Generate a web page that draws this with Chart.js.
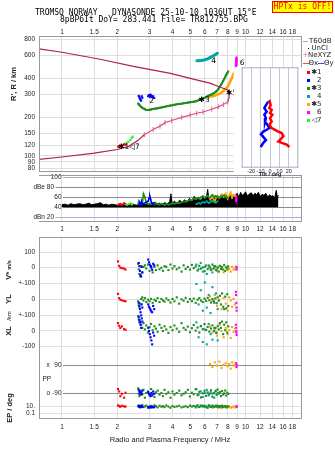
<!DOCTYPE html>
<html>
<head>
<meta charset="utf-8">
<title>Dynasonde ionogram</title>
<script src="https://cdn.jsdelivr.net/npm/chart.js@4.4.1/dist/chart.umd.min.js"></script>
<style>
  body { margin: 0; background: #fff; }
  #page { position: relative; width: 335px; height: 451px; overflow: hidden; background: #fff;
          font-family: "Liberation Sans", Arial, sans-serif; color: #222; }
  canvas { position: absolute; }
  .txt { position: absolute; white-space: pre; line-height: 1; }
  .mono { font-family: "DejaVu Sans Mono", monospace; font-size: 8px; color: #000; }
  .rot { transform: translate(-50%, -50%) rotate(-90deg); font-weight: bold; font-size: 7.5px; }
  .leg { font-family: "DejaVu Sans", "Liberation Sans", sans-serif; font-size: 7px; }
  .sw { position: absolute; }
</style>
</head>
<body>
<div id="page">
  <canvas id="cRange" width="335" height="172" style="left:0;top:0;width:335px;height:172px"></canvas>
  <canvas id="cAmp" width="335" height="62" style="left:0;top:173px;width:335px;height:62px"></canvas>
  <canvas id="cLow" width="335" height="201" style="left:0;top:231px;width:335px;height:201px"></canvas>
  <canvas id="cTilt" width="70" height="109" style="left:232px;top:64px;width:70px;height:109px"></canvas>

  <div class="txt mono" style="left:35px;top:8.6px">TROMSO NORWAY   DYNASONDE 25-10-10 1036UT 15°E</div>
  <div class="txt mono" style="left:60px;top:15.8px">8pBP6It DoY= 283.441 File= TR812755.BPG</div>
  <div class="txt mono" style="left:272px;top:1px;width:59px;height:10px;line-height:10px;text-align:center;color:#f00;background:#ff0;border:1px solid #f00">HPTx is OFF!</div>

  <!-- legend -->
  <div class="sw" style="left:303px;top:41px;width:5px;height:1px;background:#aaa"></div>
  <div class="txt leg" style="left:309px;top:38.2px">T60dB</div>
  <div class="sw" style="left:307.5px;top:47.5px;width:1.5px;height:1.5px;background:#000"></div>
  <div class="txt leg" style="left:311.5px;top:44.8px">UnCl</div>
  <div class="txt leg" style="left:302.5px;top:51.5px;color:#e0609a">+</div>
  <div class="txt leg" style="left:308px;top:51.5px">NeXYZ</div>
  <div class="sw" style="left:303px;top:63px;width:5.5px;height:1px;background:#f44"></div>
  <div class="txt leg" style="left:308.5px;top:59.8px">Θx</div>
  <div class="sw" style="left:317.5px;top:63px;width:6px;height:1px;background:#44f"></div>
  <div class="txt leg" style="left:324px;top:59.8px">Θy</div>
  <div id="legRows"></div>

  <div class="txt rot" style="left:14px;top:84px">R', R / km</div>
  <div class="txt rot" style="left:9px;top:270px">V* <span style="font-size:5.5px">m/s</span></div>
  <div class="txt rot" style="left:9px;top:299px">YL</div>
  <div class="txt rot" style="left:9px;top:316px;font-size:6px;font-weight:normal">/km</div>
  <div class="txt rot" style="left:9px;top:331px">XL</div>
  <div class="txt rot" style="left:9.5px;top:408px">EP / deg</div>
  <div class="txt" style="left:170px;top:435.8px;font-size:7.5px;transform:translateX(-50%)">Radio and Plasma Frequency / MHz</div>
  <div class="txt" style="left:270px;top:172.4px;font-size:5.5px;font-weight:bold;transform:translateX(-50%)">Tilt / deg</div>
</div>

<script>
// sounding frequency axis and tick values
const freqTicks = [1, 1.5, 2, 3, 4, 5, 6, 7, 8, 9, 10, 12, 14, 16, 18];
const rangeTicks = [80, 90, 100, 120, 150, 200, 300, 400, 600, 800];
const ampTicks = [100, 80, 60, 40, 20];
const tiltTicks = [-20, -10, 0, 10, 20];

// true height profile (MHz, km)
const profLowF = [0.75, 1.0, 1.5, 2.0, 2.3, 2.6, 2.81];
const profLowR = [94, 98, 105, 112, 118, 132, 146];
const neF = [2.81, 3.14, 3.42, 3.64, 3.96, 4.49, 4.99, 5.42, 5.87, 6.54, 7.11, 7.57, 8.0];
const neR = [146, 160, 170, 181, 188, 199, 207, 214, 219, 230, 240, 250, 262];
const profTopF = [8.0, 8.12, 8.15, 8.1, 8.0, 7.0, 6.46, 5.0, 3.9, 2.45, 1.615, 1.0, 0.75];
const profTopR = [262, 280, 300, 318, 324, 348, 365, 399, 436, 494, 561, 636, 675];

// echo groups: f = MHz, r = R' km, a = dB, v = V* m/s, yl/xl = m, pp/ep = deg
const f1 = [2.02, 2.05, 2.08, 2.12, 2.18, 2.22];
const r1 = [118, 119, 120, 121, 123, 122];
const a1 = [44, 46, 47, 45, 48, 47];
const v1 = [40, 12, 0, -3, -5, -12];
const yl1 = [37, 10, 0, -4, -8, -10];
const xl1 = [50, 33, 19, 29, 12, 8];
const pp1 = [-65, -80, -110, -95, -120, -88];
const ep1 = [20, 12, 8, 15, 10, 9];

const f2 = [2.62, 2.64, 2.66, 2.68, 2.70, 2.72, 2.74, 2.95, 2.98, 3.01, 3.04, 3.07, 3.10, 3.14, 3.18];
const r2 = [292, 285, 278, 272, 268, 290, 282, 290, 296, 288, 298, 292, 286, 290, 281];
const a2 = [44, 46, 48, 45, 47, 50, 46, 52, 58, 62, 56, 50, 48, 47, 45];
const v2 = [30, 10, -20, -45, -56, 5, -30, 52, 35, 20, 10, 0, -13, 25, 15];
const yl2 = [-20, -40, -60, -80, -100, -30, -50, -30, -45, -55, -65, -75, -80, -40, -60];
const xl2 = [90, 70, 55, 40, 20, 80, 60, 20, 0, -20, -40, -60, -85, -10, -30];
const pp2 = [-70, -80, -90, -100, -85, -95, -75, -85, -95, -100, -110, -90, -105, -80, -95];
const ep2 = [12, 8, 10, 6, 9, 14, 7, 6, 5, 8, 4, 7, 9, 5, 6];

const f3 = [2.60, 2.62, 2.64, 2.67, 2.70, 2.74, 2.78, 2.83, 2.88, 2.94,
            3.00, 3.06, 3.12, 3.19, 3.25, 3.32, 3.40, 3.48, 3.55, 3.62,
            3.70, 3.80, 3.90, 4.00, 4.10, 4.22, 4.35, 4.48, 4.60, 4.72,
            4.85, 4.98, 5.10, 5.22, 5.35, 5.48, 5.60, 5.72, 5.85, 5.98,
            6.10, 6.22, 6.35, 6.48, 6.60, 6.72, 6.85, 6.95, 7.05, 7.15,
            7.25, 7.35, 7.45, 7.55, 7.65, 7.75, 7.85, 7.95, 8.05];
const r3 = [255, 252, 248, 244, 240, 236, 233, 230, 227, 227,
            228, 229, 231, 232, 233, 234, 236, 237, 239, 240,
            242, 244, 246, 247, 249, 251, 253, 254, 256, 257,
            259, 260, 262, 263, 265, 268, 272, 275, 278, 282,
            286, 290, 295, 298, 302, 307, 312, 318, 325, 334,
            345, 356, 368, 381, 395, 410, 425, 438, 452];
const a3 = [48, 50, 47, 49, 50, 47, 67, 60, 49, 46,
            47, 46, 48, 45, 48, 46, 45, 47, 46, 44,
            47, 45, 46, 48, 47, 49, 48, 50, 52, 51,
            53, 55, 54, 58, 56, 59, 57, 60, 62, 59,
            61, 63, 59, 62, 65, 60, 63, 61, 62, 58,
            60, 62, 61, 63, 64, 60, 62, 59, 58];
const v3 = [25, -10, -40, -55, 10, -30, 5, 15, -5, 20,
            -20, 10, -30, 5, -15, 15, -10, 0, -20, 10,
            5, -15, 20, -5, 10, -10, 0, -25, 15, -8,
            5, -12, 18, -3, 8, -18, 12, -6, 2, -22,
            14, -9, 6, -14, 20, -4, 10, -16, 0, -25,
            12, -8, 5, -12, 18, -20, 3, -6, 9];
const yl3 = [-10, -35, -50, -25, 5, 15, -5, 10, -15, 0,
             -10, 5, -20, 0, -8, 10, -15, 5, -5, -12,
             8, -3, -18, 5, -10, 15, -25, 2, -6, 12,
             -14, 4, -9, 7, -20, 0, 10, -5, -15, 6,
             -8, 12, -3, -18, 4, -10, 8, -22, 15, -6,
             25, -30, 40, -45, -60, 20, -55, 35, -40];
const xl3 = [95, 75, 55, 60, 40, 20, 50, 10, 35, -10,
             25, 45, 5, 30, 15, -5, 40, 20, 0, 30,
             10, -12, 25, 5, 35, 15, -5, 50, 20, 8,
             28, -8, 18, 38, 2, 22, -10, 32, 12, 44,
             6, 26, -4, 16, 36, 0, 20, -12, 30, 10,
             50, 20, 60, -20, 40, 5, 55, -10, 30];
const pp3 = [-60, -95, -110, -75, -85, -100, -70, -120, -90, -80,
             -105, -65, -95, -115, -85, -75, -100, -90, -110, -70,
             -95, -85, -120, -80, -100, -90, -75, -105, -95, -85,
             -70, -112, -88, -98, -66, -104, -82, -118, -92, -76,
             -108, -86, -96, -72, -114, -90, -80, -102, -68, -94,
             -84, -110, -78, -100, -92, -74, -106, -88, -96];
const ep3 = [15, 8, 20, 5, 12, 25, 6, 10, 18, 4,
             9, 14, 7, 22, 11, 5, 16, 8, 12, 6,
             20, 9, 4, 13, 7, 10, 15, 5, 8, 11,
             6, 18, 9, 13, 5, 22, 7, 12, 16, 8,
             10, 4, 14, 7, 19, 6, 11, 9, 15, 5,
             12, 8, 17, 6, 10, 13, 5, 9, 11];

const f4 = [5.40, 5.55, 5.70, 5.85, 6.00, 6.15, 6.30, 6.45, 6.60, 6.75, 6.90, 7.05];
const r4 = [546, 547, 549, 551, 556, 562, 570, 582, 592, 603, 614, 628];
const a4 = [46, 48, 47, 50, 49, 52, 48, 51, 53, 50, 49, 52];
const v4 = [20, -10, 30, -25, 5, -40, 15, -5, -30, 10, -15, 0];
const yl4 = [100, -30, 60, -70, 110, -50, 30, -85, 80, -20, 40, -60];
const xl4 = [55, -40, 30, -70, 10, -85, 45, -20, -55, 20, -10, -60];
const pp4 = [-65, -100, -80, -115, -90, -70, -105, -85, -95, -120, -75, -90];
const ep4 = [12, 6, 20, 9, 15, 5, 25, 8, 11, 7, 18, 10];

const f5 = [6.40, 6.60, 6.80, 7.00, 7.20, 7.40, 7.60, 7.80, 8.00, 8.15, 8.30, 8.45, 8.60, 8.75];
const r5 = [288, 290, 293, 298, 303, 310, 320, 332, 345, 362, 385, 405, 430, 445];
const a5 = [55, 60, 52, 63, 58, 66, 61, 68, 57, 64, 70, 59, 65, 62];
const v5 = [5, -10, 0, -20, 8, -5, -30, 2, -15, -8, -25, 5, -12, -3];
const yl5 = [20, -10, 30, -40, 0, -60, 10, -25, -70, 15, -5, -45, 5, -30];
const xl5 = [30, -10, 10, -30, 40, 0, -40, 20, -20, 5, -45, 25, -5, 15];
const pp5 = [95, 75, 105, 85, 110, 70, 90, 100, 80, 95, 65, 105, 85, 90];
const ep5 = [8, 4, 12, 6, 9, 3, 7, 10, 5, 8, 4, 6, 9, 5];

const f6 = [8.86, 8.88, 8.90, 8.92, 8.94];
const r6 = [495, 515, 535, 555, 580];
const a6 = [52, 58, 63, 55, 60];
const v6 = [0, -8, 5, -12, 3];
const yl6 = [50, 30, -20, -50, -70];
const xl6 = [40, 20, 0, -10, -25];
const pp6 = [100, 95, 85, 75, 90];
const ep6 = [9, 6, 10, 7, 8];

const f7 = [2.25, 2.30, 2.36, 2.40, 2.43];
const r7 = [126, 129, 133, 138, 141];
const a7 = [44, 46, 48, 45, 47];

// group tags written next to the traces
const tagF = [2.32, 3.08, 5.95, 6.7, 8.38, 9.57];
const tagR = [117, 267, 270, 546, 305, 520];
const tagText = ['✱1◁7', '2', '✱3', '4', '✱5', '6'];

// receiver noise (dB) across the sweep
const noiseF = [1.00, 1.04, 1.08, 1.12, 1.16, 1.20, 1.25, 1.30, 1.35, 1.40, 1.45, 1.50, 1.56, 1.62, 1.68, 1.74, 1.80, 1.87, 1.94, 2.00,
                2.08, 2.16, 2.24, 2.32, 2.40, 2.48, 2.56, 2.65, 2.74, 2.83, 2.92, 3.01,
                3.10, 3.20, 3.30, 3.40, 3.50, 3.62, 3.74, 3.86, 3.92, 3.98,
                4.10, 4.24, 4.38, 4.52, 4.66, 4.80, 4.95, 5.10, 5.25, 5.40, 5.56, 5.72, 5.88,
                6.05, 6.15, 6.22, 6.30,
                6.48, 6.66, 6.84, 7.02, 7.20, 7.40, 7.60, 7.80, 8.00, 8.20, 8.40, 8.60,
                8.80, 9.00, 9.20, 9.40, 9.60, 9.80, 10.0, 10.25, 10.5, 10.75, 11.0, 11.25, 11.5, 11.75, 12.0, 12.3,
                12.6, 12.9, 13.2, 13.5, 13.8, 14.1, 14.4, 14.7, 14.9, 15.1];
const noiseTop = [45, 46, 44, 47, 45, 46, 47, 45, 46, 48, 45, 46, 47, 49, 45, 46, 44, 46, 45, 44,
                  44, 45, 43, 44, 46, 45, 44, 46, 47, 45, 48, 46,
                  47, 50, 46, 48, 45, 49, 47, 50, 67, 48,
                  52, 47, 54, 49, 55, 50, 58, 51, 62, 54, 60, 52, 63,
                  56, 64, 76, 58,
                  55, 60, 57, 62, 58, 61, 59, 63, 60, 64, 61, 66,
                  62, 68, 60, 70, 64, 66, 71, 62, 67, 69, 63, 68, 65, 70, 61, 66,
                  64, 68, 60, 65, 62, 63, 58, 74, 60, 64];

// antenna tilt against height (deg, km)
const tiltXR = [270, 246, 233, 226, 213, 207, 195, 183, 173, 163, 158, 153, 149, 141, 132, 128, 125, 121, 116];
const tiltX = [-0.7, 0.7, -0.7, 1.8, 0, 2.5, 0, 1.8, -0.7, 1.8, 5.3, 8.9, 12.4, 14.2, 10.6, 8.9, 12.4, 17.7, 20.6];
const tiltYR = [262, 246, 233, 219, 207, 195, 183, 173, 163, 158, 153, 146, 139, 131, 125, 116];
const tiltY = [-1.8, -4.3, -6, -3.5, -6, -4.3, -5.3, -2.8, -0.7, -3.5, -7.1, -9.6, -7.1, -4.3, -7.1, -9.9];

const groups = [
  { name: '✱1', color: '#ff0000', f: f1, r: r1, a: a1, v: v1, yl: yl1, xl: xl1, pp: pp1, ep: ep1 },
  { name: '2', color: '#0000ff', f: f2, r: r2, a: a2, v: v2, yl: yl2, xl: xl2, pp: pp2, ep: ep2 },
  { name: '✱3', color: '#228b22', f: f3, r: r3, a: a3, v: v3, yl: yl3, xl: xl3, pp: pp3, ep: ep3, line: 2 },
  { name: '4', color: '#00a5a5', f: f4, r: r4, a: a4, v: v4, yl: yl4, xl: xl4, pp: pp4, ep: ep4, line: 3 },
  { name: '✱5', color: '#ffa500', f: f5, r: r5, a: a5, v: v5, yl: yl5, xl: xl5, pp: pp5, ep: ep5, line: 2.5 },
  { name: '6', color: '#ff00ff', f: f6, r: r6, a: a6, v: v6, yl: yl6, xl: xl6, pp: pp6, ep: ep6, line: 2.5 },
  { name: '◁7', color: '#2bef2b', f: f7, r: r7, a: a7 }
];

// legend rows on the right
const legRows = document.getElementById('legRows');
groups.forEach((g, i) => {
  const cy = 72.5 + i * 8;
  legRows.insertAdjacentHTML('beforeend',
    '<div class="sw" style="left:307px;top:' + (cy - 1.5) + 'px;width:3px;height:3px;background:' + g.color + '"></div>' +
    '<div class="txt leg" style="right:13.5px;top:' + (cy - 3.5) + 'px">' + g.name + '</div>');
});

Chart.defaults.font.family = "'Liberation Sans', Arial, sans-serif";
Chart.defaults.font.size = 6.5;
Chart.defaults.color = '#222';
Chart.defaults.animation = false;
Chart.defaults.layout.autoPadding = false;   // plot boxes are placed by hand
Chart.defaults.plugins.legend.display = false;
Chart.defaults.plugins.tooltip.enabled = false;

const F_MIN = 0.75, F_MAX = 20.3;
const LABEL_FONT = "6.5px 'Liberation Sans', Arial, sans-serif";

function freqAxis(position, height, pad) {
  return {
    type: 'logarithmic', position: position, min: F_MIN, max: F_MAX,
    afterBuildTicks: s => { s.ticks = freqTicks.map(v => ({ value: v })); },
    afterFit: s => { s.height = height; },
    ticks: { autoSkip: false, maxRotation: 0, minRotation: 0, padding: pad, callback: v => String(v) },
    grid: { color: '#dedede', drawTicks: false },
    border: { display: false }
  };
}

// y axis that only draws grid lines; its labels come from yLabels()
function gridAxis(type, min, max, values, color) {
  return {
    type: type, min: min, max: max,
    afterBuildTicks: s => { s.ticks = values.map(v => ({ value: v })); },
    afterFit: s => { s.width = 39; },
    ticks: { display: false },
    grid: { color: color, drawTicks: false },
    border: { display: false }
  };
}

function yLabels(values, texts) {
  return {
    id: 'yLabels',
    afterDraw(chart) {
      const ctx = chart.ctx, ys = chart.scales.y;
      ctx.save();
      ctx.font = LABEL_FONT;
      ctx.fillStyle = '#222';
      ctx.textAlign = 'right';
      ctx.textBaseline = 'middle';
      values.forEach((v, i) => ctx.fillText(texts[i], 35, ys.getPixelForValue(v)));
      ctx.restore();
    }
  };
}

function pts(xs, ys, map) {
  return xs.map((x, i) => ({ x: x, y: map ? map(ys[i]) : ys[i] }));
}

function dots(data, color, r) {
  return { data: data, showLine: false, pointStyle: 'rect', pointRadius: r || 1.3,
           pointBorderWidth: 0, pointBackgroundColor: color, borderColor: color };
}

// panel outline
function frame(sides, color) {
  return {
    id: 'frame',
    afterDraw(chart) {
      const a = chart.chartArea, ctx = chart.ctx;
      ctx.save();
      ctx.strokeStyle = color;
      ctx.lineWidth = 1;
      ctx.beginPath();
      if (sides.includes('t')) { ctx.moveTo(a.left, a.top + 0.5); ctx.lineTo(a.right, a.top + 0.5); }
      if (sides.includes('b')) { ctx.moveTo(a.left, a.bottom - 0.5); ctx.lineTo(a.right, a.bottom - 0.5); }
      if (sides.includes('l')) { ctx.moveTo(a.left + 0.5, a.top); ctx.lineTo(a.left + 0.5, a.bottom); }
      if (sides.includes('r')) { ctx.moveTo(a.right - 0.5, a.top); ctx.lineTo(a.right - 0.5, a.bottom); }
      ctx.stroke();
      ctx.restore();
    }
  };
}

// ---- virtual range panel ----
const tagPlugin = {
  id: 'tags',
  afterDatasetsDraw(chart) {
    const ctx = chart.ctx, xs = chart.scales.x, ys = chart.scales.y;
    ctx.save();
    ctx.font = "7.5px 'DejaVu Sans', sans-serif";
    ctx.fillStyle = '#000';
    ctx.textAlign = 'center';
    ctx.textBaseline = 'middle';
    tagText.forEach((t, i) => ctx.fillText(t, xs.getPixelForValue(tagF[i]), ys.getPixelForValue(tagR[i])));
    ctx.restore();
  }
};

const rangeSets = [
  { data: pts(profLowF, profLowR), showLine: true, borderColor: '#b0204c', borderWidth: 1.2, pointRadius: 0 },
  { data: pts(neF, neR), showLine: true, borderColor: '#d8508a', borderWidth: 1.2,
    pointStyle: 'line', rotation: 90, pointRadius: 2.5, pointBorderColor: '#e0609a', pointBorderWidth: 1 },
  { data: pts(profTopF, profTopR), showLine: true, borderColor: '#b0204c', borderWidth: 1.2, pointRadius: 0 }
];
groups.forEach(g => {
  const d = dots(pts(g.f, g.r), g.color, g.line ? 1.4 : 1.5);
  if (g.line) { d.showLine = true; d.borderWidth = g.line; }
  rangeSets.push(d);
});

new Chart(document.getElementById('cRange'), {
  type: 'scatter',
  data: { datasets: rangeSets },
  options: {
    responsive: false,
    layout: { padding: { left: 0, right: 33, top: 0, bottom: 0 } },
    scales: {
      x: freqAxis('top', 36, -0.5),
      y: gridAxis('logarithmic', 75, 850, rangeTicks, '#dedede')
    }
  },
  plugins: [frame('tlrb', '#999'), tagPlugin, yLabels(rangeTicks, rangeTicks.map(String))]
});

// ---- echo amplitude panel ----
const ampLines = {
  id: 'ampLines',
  beforeDatasetsDraw(chart) {
    const ctx = chart.ctx, ys = chart.scales.y, a = chart.chartArea;
    ctx.save();
    ctx.font = LABEL_FONT;
    ctx.fillStyle = '#222';
    ctx.textBaseline = 'middle';
    ampTicks.forEach(v => {
      const y = Math.round(ys.getPixelForValue(v)) + 0.5;
      const pre = v === 80 ? 'dBe ' : v === 20 ? 'dBn ' : '';
      const end = pre ? 54 : 61.5;
      ctx.textAlign = 'right';
      ctx.fillText(pre + v, end, y);
      ctx.strokeStyle = v === 20 ? '#aab0dd' : v === 100 ? '#aaa' : '#8c8c8c';
      ctx.lineWidth = 1;
      ctx.beginPath();
      ctx.moveTo(end + 1.5, y);
      ctx.lineTo(a.right, y);
      ctx.stroke();
    });
    ctx.restore();
  }
};

const ampSets = [];
groups.forEach(g => {
  ampSets.push({ data: pts(g.f, g.a), showLine: true, borderColor: g.color, borderWidth: 1.6,
                 pointStyle: 'rect', pointRadius: 1.1, pointBorderWidth: 0, pointBackgroundColor: g.color, order: 1 });
});
ampSets.push({ data: pts(noiseF, noiseTop), showLine: true, borderColor: '#000', borderWidth: 1,
               backgroundColor: '#000', fill: { value: 40 }, pointRadius: 0, order: 5 });

new Chart(document.getElementById('cAmp'), {
  type: 'scatter',
  data: { datasets: ampSets },
  options: {
    responsive: false,
    layout: { padding: { left: 39, right: 33, top: 2, bottom: 0 } },
    scales: {
      x: freqAxis('bottom', 13, 3),
      y: { type: 'linear', min: 10, max: 105, display: false }
    }
  },
  plugins: [ampLines, frame('trb', '#999')]
});

// ---- drift velocity, location, polarization panel ----
const K = 0.157;                         // panel pixels per m/s, m or deg
const ROW_V = 151.3, ROW_YL = 119.3, ROW_XL = 88, ROW_PP = 26, ROW_EP = 12.6, EP_DEC = 3.3;
const toV = v => ROW_V + v * K;
const toYL = v => ROW_YL + v * K;
const toXL = v => ROW_XL + v * K;
const toPP = v => ROW_PP + (v + 90) * K;
const toEP = v => ROW_EP + Math.log10(v / 10) * EP_DEC;

const lowTickU = [toEP(0.1), toEP(10), toXL(-100), toXL(0), toXL(100), toYL(0), toV(-100), toV(0), toV(100)];
const lowTickText = ['0.1', '10.', '-100', '0', '+-100', '0', '+-100', '0', '100'];

const ppPlugin = {
  id: 'pp',
  beforeDatasetsDraw(chart) {
    const ctx = chart.ctx, ys = chart.scales.y, a = chart.chartArea;
    ctx.save();
    ctx.font = LABEL_FONT;
    ctx.fillStyle = '#222';
    ctx.textBaseline = 'middle';
    [[90, 'x', '90'], [-90, 'o', '-90']].forEach(([v, m, t]) => {
      const y = Math.round(ys.getPixelForValue(toPP(v))) + 0.5;
      ctx.textAlign = 'left';
      ctx.fillText(m, 46.5, y);
      ctx.textAlign = 'right';
      ctx.fillText(t, 61.5, y);
      ctx.strokeStyle = '#8a8a8a';
      ctx.lineWidth = 1;
      ctx.beginPath();
      ctx.moveTo(63, y);
      ctx.lineTo(a.right, y);
      ctx.stroke();
    });
    ctx.textAlign = 'left';
    ctx.fillText('PP', 42.5, ys.getPixelForValue(toPP(0)));
    ctx.restore();
  }
};

const lowSets = [];
groups.filter(g => g.v).forEach(g => {
  [[g.v, toV], [g.yl, toYL], [g.xl, toXL], [g.pp, toPP], [g.ep, toEP]].forEach(([vals, fn]) => {
    lowSets.push(dots(pts(g.f, vals, fn), g.color, 1.5));
  });
});

new Chart(document.getElementById('cLow'), {
  type: 'scatter',
  data: { datasets: lowSets },
  options: {
    responsive: false,
    layout: { padding: { left: 0, right: 33, top: 6, bottom: 0 } },
    scales: {
      x: freqAxis('bottom', 13, 4),
      y: gridAxis('linear', 0, 182, lowTickU, '#e0e0e0')
    }
  },
  plugins: [ppPlugin, frame('tlrb', '#999'), yLabels(lowTickU, lowTickText)]
});

// ---- tilt inset ----
const insetBg = {
  id: 'insetBg',
  beforeDraw(chart) {
    const a = chart.chartArea, ctx = chart.ctx;
    ctx.save();
    ctx.fillStyle = '#fff';
    ctx.fillRect(a.left - 8, a.top, a.right - a.left + 12, chart.height - a.top);
    ctx.restore();
  }
};

new Chart(document.getElementById('cTilt'), {
  type: 'scatter',
  data: {
    datasets: [
      { data: pts(tiltX, tiltXR), showLine: true, borderColor: '#ff0000', borderWidth: 2.5, pointRadius: 0 },
      { data: pts(tiltY, tiltYR), showLine: true, borderColor: '#0000ff', borderWidth: 2.5, pointRadius: 0 }
    ]
  },
  options: {
    responsive: false,
    layout: { padding: { left: 9.7, right: 3.7, top: 3.3, bottom: 0 } },
    scales: {
      x: {
        type: 'linear', min: -30, max: 30,
        afterBuildTicks: s => { s.ticks = tiltTicks.map(v => ({ value: v })); },
        afterFit: s => { s.height = 5.3; },
        ticks: { padding: 0, font: { size: 5.5 }, autoSkip: false, maxRotation: 0 },
        grid: { color: '#c4c4de', drawTicks: false },
        border: { display: false }
      },
      y: { type: 'logarithmic', min: 80, max: 485, display: false }
    }
  },
  plugins: [insetBg, frame('tlrb', '#a8a8c8')]
});
</script>
</body>
</html>
